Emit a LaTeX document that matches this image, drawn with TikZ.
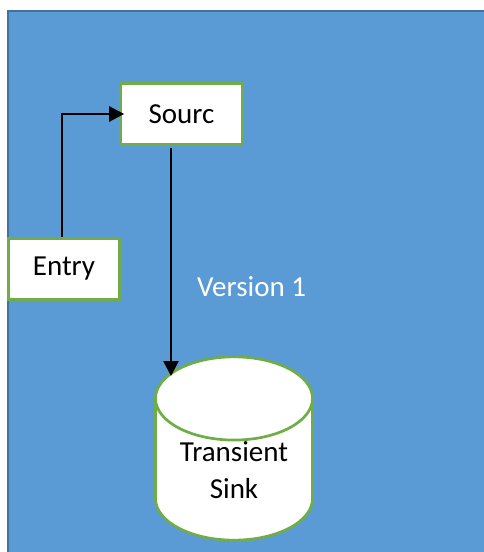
\documentclass[tikz,border=0pt]{standalone}
\usepackage{fontspec}
\setmainfont{Carlito}
\usetikzlibrary{shapes.geometric,arrows.meta}
\definecolor{panelblue}{HTML}{5B9BD5}
\definecolor{paneledge}{HTML}{41719C}
\definecolor{boxgreen}{HTML}{70AD47}
\tikzset{
  label font/.style={font=\fontsize{29}{37}\selectfont},
  box/.style={draw=boxgreen, line width=2.7pt, fill=white, inner sep=0pt,
    label font},
  flow/.style={draw=black, line width=2.6pt, -{Triangle[length=15pt,width=15pt]}},
  store/.style={cylinder, shape border rotate=90, aspect=0.77, draw=boxgreen,
    line width=2.7pt, fill=white, inner sep=0pt, align=center, label font},
}
\begin{document}
\begin{tikzpicture}[x=1pt,y=-1pt]
\useasboundingbox (0,0) rectangle (483,552);
% background panel
\fill[panelblue] (7,10) rectangle (490,560);
\draw[paneledge, line width=2pt] (8,560) -- (8,11) -- (490,11);
% nodes
\node[box, minimum width=122pt, minimum height=61pt] (src) at (181.5,114) {Sourc};
\node[box, minimum width=111pt, minimum height=61pt] (entry) at (64,269) {Entry};
\node[store, minimum width=157pt, minimum height=183pt, anchor=shape center] (sink) at (234,448.5) {Transient\\Sink};
\node[text=white, label font, anchor=west, inner sep=0pt] (ver) at (197,287) {Version 1};
% connectors
\coordinate (bend) at (62,114);
\draw[flow, shorten >=-5pt] (entry.north -| bend) -- (bend) -- (src.west);
\coordinate (top) at (171,148);
\coordinate (down) at (171,376);
\draw[flow] (top) -- (down);
\end{tikzpicture}
\end{document}
